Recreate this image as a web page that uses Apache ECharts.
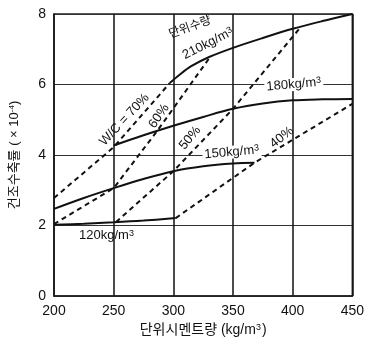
<!DOCTYPE html>
<html><head><meta charset="utf-8">
<script src="https://cdn.jsdelivr.net/npm/echarts@6/dist/echarts.min.js"></script>
<style>html,body{margin:0;padding:0;background:#fff}#c{width:367px;height:342px}</style>
</head><body><div id="c"></div>
<script>
// axis ticks
const xTicks = [200, 250, 300, 350, 400, 450];
const yTicks = [0, 2, 4, 6, 8];

// unit water content curves (cement kg/m3 -> shrinkage x1e-4)
const w120X = [200, 225, 250, 275, 302];
const w120Y = [2.02, 2.05, 2.09, 2.14, 2.21];
const w150X = [200, 225, 250, 275, 300, 325, 350, 368];
const w150Y = [2.47, 2.78, 3.06, 3.32, 3.54, 3.68, 3.76, 3.78];
const w180X = [250, 275, 300, 325, 350, 375, 400, 425, 450];
const w180Y = [4.27, 4.56, 4.83, 5.08, 5.31, 5.46, 5.55, 5.58, 5.59];
const w210X = [297, 305, 315, 330, 350, 375, 400, 425, 450];
const w210Y = [6.04, 6.27, 6.52, 6.78, 7.04, 7.32, 7.58, 7.80, 8.00];

// W/C lines
const wc70X = [200, 250, 297];
const wc70Y = [2.78, 4.22, 6.04];
const wc60X = [200, 250, 286, 331];
const wc60Y = [2.04, 3.06, 4.66, 6.79];
const wc50X = [252, 300, 350, 407];
const wc50Y = [2.10, 3.54, 5.31, 7.64];
const wc40X = [302, 368, 450];
const wc40Y = [2.21, 3.78, 5.45];

const xName = '단위시멘트량 (kg/m{s|3})';
const yName = '건조수축률 ( × 10{s|-4})';

const FONT = 'Liberation Sans, Arial, Noto Sans CJK KR, sans-serif';
const zip = (xs, ys) => xs.map((x, i) => [x, ys[i]]);

const solid = (name, xs, ys) => ({
  type: 'line', name, data: zip(xs, ys), smooth: 0.35, symbol: 'none', silent: true,
  lineStyle: { color: '#111', width: 2 }, z: 5
});
const dashed = (name, xs, ys) => ({
  type: 'line', name, data: zip(xs, ys), smooth: false, symbol: 'none', silent: true,
  lineStyle: { color: '#111', width: 2, type: [5, 4] }, z: 4
});

const chart = echarts.init(document.getElementById('c'), null, { renderer: 'canvas' });
chart.setOption({
  animation: false,
  backgroundColor: '#fff',
  grid: { left: 54, right: 14, top: 14, bottom: 44, show: true, borderColor: '#222', borderWidth: 1.5, backgroundColor: 'transparent', containLabel: false },
  xAxis: {
    type: 'value', min: xTicks[0], max: xTicks[xTicks.length - 1], interval: xTicks[1] - xTicks[0],
    name: xName, nameLocation: 'middle', nameGap: 27,
    nameTextStyle: { fontFamily: FONT, fontSize: 14, color: '#111',
      rich: { s: { fontFamily: FONT, fontSize: 9, color: '#111', verticalAlign: 'top', padding: [0, 1, 0, 0] } } },
    axisLine: { show: true, lineStyle: { color: '#222', width: 1.5 } },
    axisTick: { show: false },
    axisLabel: { fontFamily: FONT, fontSize: 14, color: '#111', margin: 8 },
    splitLine: { show: true, lineStyle: { color: '#111', width: 1.5 } }
  },
  yAxis: {
    type: 'value', min: yTicks[0], max: yTicks[yTicks.length - 1], interval: yTicks[1] - yTicks[0],
    name: yName, nameLocation: 'middle', nameGap: 33, nameRotate: 90,
    nameTextStyle: { fontFamily: FONT, fontSize: 13, color: '#111',
      rich: { s: { fontFamily: FONT, fontSize: 8, color: '#111', verticalAlign: 'top' } } },
    axisLine: { show: true, lineStyle: { color: '#222', width: 1.5 } },
    axisTick: { show: false },
    axisLabel: { fontFamily: FONT, fontSize: 14, color: '#111', margin: 8 },
    splitLine: { show: true, lineStyle: { color: '#333', width: 1.2 } }
  },
  series: [
    solid('120', w120X, w120Y),
    solid('150', w150X, w150Y),
    solid('180', w180X, w180Y),
    solid('210', w210X, w210Y),
    dashed('70%', wc70X, wc70Y),
    dashed('60%', wc60X, wc60Y),
    dashed('50%', wc50X, wc50Y),
    dashed('40%', wc40X, wc40Y)
  ]
});

// annotation texts anchored in data space
const notes = [
  { t: 'W/C = 70%', at: [259, 5.0], rot: 47, size: 13 },
  { t: '60%', at: [288, 5.1], rot: 55, size: 13 },
  { t: '50%', at: [314, 4.48], rot: 50, size: 13 },
  { t: '40%', at: [391, 4.5], rot: 38, size: 13 },
  { t: '단위수량', at: [314, 7.62], rot: 20, size: 12 },
  { t: '210kg/m{s|3}', at: [329, 7.16], rot: 27, size: 13 },
  { t: '180kg/m{s|3}', at: [401, 6.0], rot: 5, size: 13, bg: true },
  { t: '150kg/m{s|3}', at: [349, 4.08], rot: 5, size: 13, bg: true },
  { t: '120kg/m{s|3}', at: [244, 1.72], rot: 0, size: 13 }
];
chart.setOption({
  graphic: notes.map(n => {
    const p = chart.convertToPixel({ gridIndex: 0 }, n.at);
    return {
      type: 'text', x: p[0], y: p[1], rotation: n.rot * Math.PI / 180, z: 20, silent: true,
      style: {
        text: n.t, font: n.size + 'px ' + FONT, fill: '#111',
        align: 'center', verticalAlign: 'middle',
        rich: { s: { font: '9px ' + FONT, fill: '#111', verticalAlign: 'top' } },
        backgroundColor: n.bg ? '#fff' : null, padding: n.bg ? [0, 2] : 0
      }
    };
  })
});
</script></body></html>
